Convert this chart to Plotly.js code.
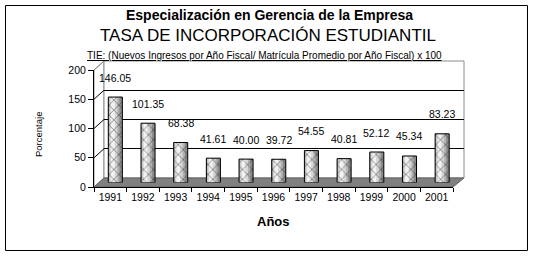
<!DOCTYPE html>
<html>
<head>
<meta charset="utf-8">
<script src="https://cdn.plot.ly/plotly-3.0.1.min.js"></script>
<style>html,body{margin:0;padding:0;background:#fff;}#chart{width:533px;height:259px;}</style>
</head>
<body>
<div id="chart"></div>
<script>
// ---- data ----
const years = ['1991','1992','1993','1994','1995','1996','1997','1998','1999','2000','2001'];
const tie = [146.05, 101.35, 68.38, 41.61, 40.00, 39.72, 54.55, 40.81, 52.12, 45.34, 83.23];
const yTickVals = [0, 50, 100, 150, 200];
const titleLine1 = 'Especialización en Gerencia de la Empresa';
const titleLine2 = 'TASA DE INCORPORACIÓN ESTUDIANTIL';
const subtitle = 'TIE: (Nuevos Ingresos por Año Fiscal/ Matrícula Promedio por Año Fiscal) x 100';
const xTitle = 'Años';
const yTitle = 'Porcentaje';

// ---- geometry helpers (pixels -> paper) ----
const W = 533, H = 259;
const px = x => x / W;
const py = y => 1 - y / H;
const FONT = 'Liberation Sans, Arial, sans-serif';

// front frame, back wall, mid (bars) frame in pixels
const front = {x0: 94, x1: 453, y0: 187, y1: 70};
const back  = {x0: 104, x1: 464, y0: 178, y1: 61};
const mid   = {x0: 99, x1: 458.5, y0: 182.5, y1: 65.5};
const yMax = 200;
const yF = v => front.y0 + (front.y1 - front.y0) * v / yMax;
const yB = v => back.y0 + (back.y1 - back.y0) * v / yMax;

const bw = 0.43;
const layers = [
  {w: bw,   off: -bw/2,  c: '#8a8a8a'},
  {w: 0.34, off: -bw/2,  c: '#b2b2b2'},
  {w: 0.24, off: -0.18,  c: '#d6d6d6'},
  {w: 0.11, off: -0.13,  c: '#f2f2f2'}
];

const traces = [];
// back wall subplot (grid only)
traces.push({type: 'scatter', x: [null], y: [null], xaxis: 'x', yaxis: 'y', mode: 'markers', hoverinfo: 'skip'});
// shaded bars
layers.forEach(l => {
  traces.push({
    type: 'bar', x: years, y: tie, xaxis: 'x2', yaxis: 'y2',
    width: l.w, offset: l.off,
    marker: {color: l.c, line: {width: 0}},
    hoverinfo: 'skip'
  });
});
// pattern + outline
traces.push({
  type: 'bar', x: years, y: tie, xaxis: 'x2', yaxis: 'y2',
  width: bw, offset: -bw/2,
  marker: {
    color: 'rgba(0,0,0,0)',
    line: {color: '#000', width: 1},
    pattern: {shape: 'x', fgcolor: '#222', bgcolor: 'rgba(0,0,0,0)', size: 7, solidity: 0.12, fillmode: 'replace'}
  },
  hoverinfo: 'skip'
});
// front axes carrier
traces.push({type: 'scatter', x: years, y: tie, xaxis: 'x3', yaxis: 'y3', mode: 'none', hoverinfo: 'skip'});

const shapes = [];
// left side wall
shapes.push({type: 'path', xref: 'paper', yref: 'paper', layer: 'below',
  path: `M ${px(front.x0)},${py(front.y1)} L ${px(back.x0)},${py(back.y1)} L ${px(back.x0)},${py(back.y0)} L ${px(front.x0)},${py(front.y0)} Z`,
  fillcolor: '#ffffff', line: {color: '#8c8c8c', width: 1}});
// back wall
shapes.push({type: 'rect', xref: 'paper', yref: 'paper', layer: 'below',
  x0: px(back.x0), x1: px(back.x1), y0: py(back.y0), y1: py(back.y1),
  fillcolor: '#ffffff', line: {color: '#8c8c8c', width: 1}});
// floor
shapes.push({type: 'path', xref: 'paper', yref: 'paper', layer: 'below',
  path: `M ${px(front.x0)},${py(front.y0)} L ${px(front.x1)},${py(front.y0)} L ${px(back.x1)},${py(back.y0)} L ${px(back.x0)},${py(back.y0)} Z`,
  fillcolor: '#808080', line: {color: '#606060', width: 1}});
// side-wall grid diagonals
yTickVals.filter(v => v > 0).forEach(v => {
  shapes.push({type: 'line', xref: 'paper', yref: 'paper', layer: 'below',
    x0: px(front.x0), y0: py(yF(v)), x1: px(back.x0), y1: py(yB(v)),
    line: {color: v === yMax ? '#8c8c8c' : '#000', width: 1}});
});
// outer border
shapes.push({type: 'rect', xref: 'paper', yref: 'paper', layer: 'above',
  x0: px(5.5), x1: px(527.5), y0: py(250.5), y1: py(5.5),
  line: {color: '#000', width: 1}, fillcolor: 'rgba(0,0,0,0)'});

const annotations = [];
// value labels: anchored on front axes (category index), shifted into the bar plane
tie.forEach((v, i) => {
  annotations.push({xref: 'x3', yref: 'y3', x: i, y: v, text: v.toFixed(2),
    xanchor: 'center', yanchor: 'middle',
    showarrow: false, xshift: 5, yshift: 24, font: {family: FONT, size: 10.5, color: '#000'}});
});
const paperText = (x, y, text, size, extra) => Object.assign({
  xref: 'paper', yref: 'paper', x: px(x), y: py(y), text: text, showarrow: false,
  xanchor: 'center', yanchor: 'middle', font: {family: FONT, size: size, color: '#000'}
}, extra || {});
annotations.push(paperText(269, 15.5, '<b>' + titleLine1 + '</b>', 14));
annotations.push(paperText(267.5, 36, titleLine2, 17));
annotations.push(paperText(264, 55, '<u>' + subtitle + '</u>', 10));
annotations.push(paperText(273, 221, '<b>' + xTitle + '</b>', 13));
annotations.push(paperText(38, 135, yTitle, 9.5, {textangle: -90}));

const hidden = {visible: false, fixedrange: true};
const layout = {
  width: W, height: H,
  margin: {l: 0, r: 0, t: 0, b: 0, pad: 0},
  paper_bgcolor: '#ffffff', plot_bgcolor: 'rgba(0,0,0,0)',
  showlegend: false, barmode: 'overlay',
  font: {family: FONT, size: 10, color: '#000'},
  xaxis: Object.assign({}, hidden, {domain: [px(back.x0), px(back.x1)], anchor: 'y', range: [0, 1]}),
  yaxis: {domain: [py(back.y0), py(back.y1)], anchor: 'x', range: [0, yMax],
    tickvals: yTickVals.filter(v => v > 0 && v < yMax), showgrid: true, gridcolor: '#000', gridwidth: 1,
    showticklabels: false, ticks: '', zeroline: false, showline: false, fixedrange: true},
  xaxis2: Object.assign({}, hidden, {domain: [px(mid.x0), px(mid.x1)], anchor: 'y2', type: 'category', range: [-0.5, years.length - 0.5]}),
  yaxis2: Object.assign({}, hidden, {domain: [py(mid.y0), py(mid.y1)], anchor: 'x2', range: [0, yMax]}),
  xaxis3: {domain: [px(front.x0), px(front.x1)], anchor: 'y3', type: 'category', range: [-0.5, years.length - 0.5],
    showline: true, linecolor: '#000', linewidth: 1, ticks: 'outside', tickson: 'boundaries', ticklen: 4, tickcolor: '#000',
    showgrid: false, zeroline: false, tickfont: {family: FONT, size: 10.5, color: '#000'}, fixedrange: true},
  yaxis3: {domain: [py(front.y0), py(front.y1)], anchor: 'x3', range: [0, yMax], tickvals: yTickVals,
    showline: true, linecolor: '#000', linewidth: 1, ticks: 'outside', ticklen: 5, tickcolor: '#000',
    showgrid: false, zeroline: false, tickfont: {family: FONT, size: 10.5, color: '#000'}, fixedrange: true},
  shapes: shapes,
  annotations: annotations
};

Plotly.newPlot('chart', traces, layout, {staticPlot: true, displayModeBar: false});
</script>
</body>
</html>
